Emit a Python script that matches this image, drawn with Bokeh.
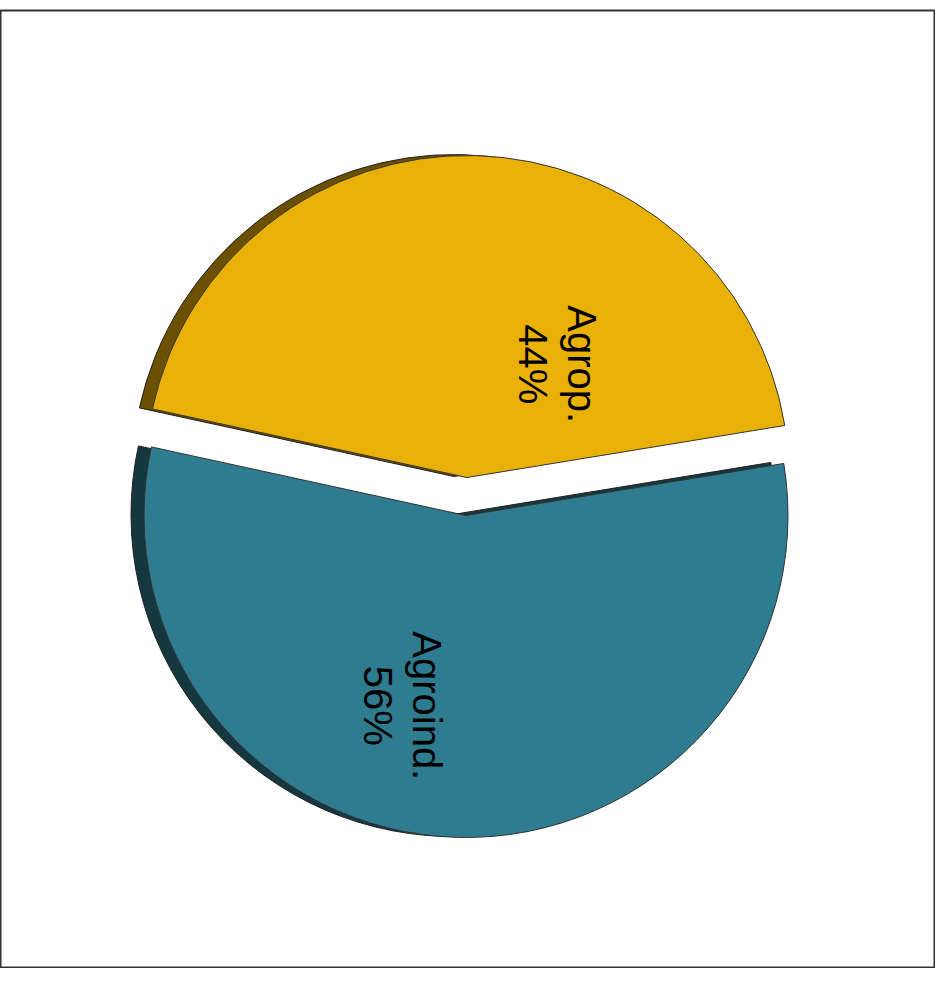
import numpy as np
from bokeh.plotting import figure
from bokeh.models import ColumnDataSource, Range1d
from bokeh.core.properties import value
from bokeh.embed import file_html
from bokeh.resources import INLINE

# ---- data ----
categories = ["Agrop.", "Agroind."]
shares = [44, 56]
pct_labels = ["44%", "56%"]
colors = ["#E9B006", "#2F7B8F"]
shadow_colors = ["#6B5000", "#15373F"]

# ---- layout ----
W, H = 935, 968
TOP_GAP = 10
CX, CY = 466, -496          # pie centre (canvas px, y negated)
R = 322
EXPLODE = 19
START_DEG = 9.3
SHADOW_DX, SHADOW_DY = -13, 1
# label anchor offsets relative to each slice centre (radius, angle deg)
label_polar = [(145, 51.4), (200.5, 251.6)]

frac = np.array(shares, dtype=float) / sum(shares)
start0 = np.deg2rad(START_DEG)
ends = start0 + 2 * np.pi * np.cumsum(frac)
starts = ends - 2 * np.pi * frac
mids = (starts + ends) / 2
xs = CX + EXPLODE * np.cos(mids)
ys = CY + EXPLODE * np.sin(mids)

lx = [x + r * np.cos(np.deg2rad(a)) for x, (r, a) in zip(xs, label_polar)]
ly = [y + r * np.sin(np.deg2rad(a)) for y, (r, a) in zip(ys, label_polar)]

src = ColumnDataSource(dict(
    x=xs, y=ys, sx=xs + SHADOW_DX, sy=ys + SHADOW_DY,
    start=starts, end=ends, color=colors, shadow=shadow_colors,
))
lsrc = ColumnDataSource(dict(
    x=lx, y=ly, text=[f"{c}\n{p}" for c, p in zip(categories, pct_labels)],
))

p = figure(width=W, height=H, output_backend="svg", toolbar_location=None,
           x_range=Range1d(0, W), y_range=Range1d(-H, -TOP_GAP),
           x_axis_location=None, y_axis_location=None,
           min_border=0, min_border_top=TOP_GAP,
           background_fill_color="white", border_fill_color="white")
p.grid.visible = False
p.outline_line_color = "#333333"
p.outline_line_width = 2

p.wedge(x="sx", y="sy", radius=R, start_angle="start", end_angle="end",
        fill_color="shadow", line_color="#222222", line_width=1, source=src)
p.wedge(x="x", y="y", radius=R, start_angle="start", end_angle="end",
        fill_color="color", line_color="#333333", line_width=1, source=src)

p.text(x="x", y="y", text="text", angle=-np.pi / 2, source=lsrc,
       text_font=value("Liberation Sans"), text_font_size="40px",
       text_align="center", text_baseline="middle", text_color="black",
       text_line_height=1.12)

open("out.html", "w").write(file_html(p, INLINE))
